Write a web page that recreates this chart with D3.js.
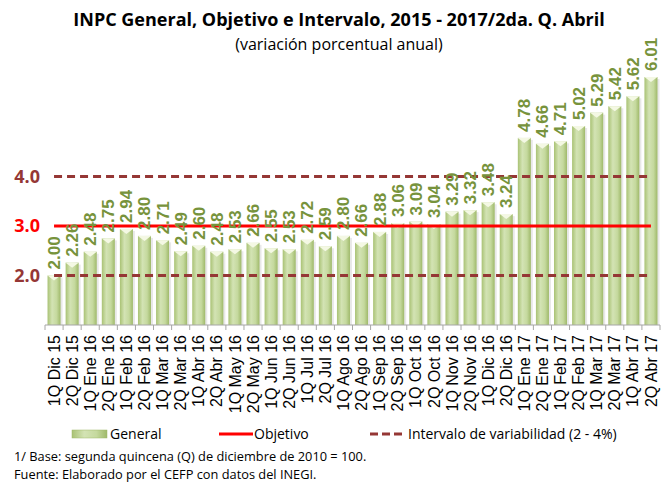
<!DOCTYPE html>
<html lang="es">
<head>
  <meta charset="UTF-8">
  <title>INPC General, Objetivo e Intervalo</title>
  <script src="https://d3js.org/d3.v7.min.js"></script>
  <style>
    body { margin: 0; background: #fff; }
    text { font-family: "Open Sans", sans-serif; }
  </style>
</head>
<body>
  <div id="chart"></div>
  <script>
    const categories = ["1Q Dic 15", "2Q Dic 15", "1Q Ene 16", "2Q Ene 16", "1Q Feb 16", "2Q Feb 16",
      "1Q Mar 16", "2Q Mar 16", "1Q Abr 16", "2Q Abr 16", "1Q May 16", "2Q May 16",
      "1Q Jun 16", "2Q Jun 16", "1Q Jul 16", "2Q Jul 16", "1Q Ago 16", "2Q Ago 16",
      "1Q Sep 16", "2Q Sep 16", "1Q Oct 16", "2Q Oct 16", "1Q Nov 16", "2Q Nov 16",
      "1Q Dic 16", "2Q Dic 16", "1Q Ene 17", "2Q Ene 17", "1Q Feb 17", "2Q Feb 17",
      "1Q Mar 17", "2Q Mar 17", "1Q Abr 17", "2Q Abr 17"];
    const general = [2.00, 2.26, 2.48, 2.75, 2.94, 2.80, 2.71, 2.49, 2.60, 2.48, 2.53, 2.66,
      2.55, 2.53, 2.72, 2.59, 2.80, 2.66, 2.88, 3.06, 3.09, 3.04, 3.29, 3.32,
      3.48, 3.24, 4.78, 4.66, 4.71, 5.02, 5.29, 5.42, 5.62, 6.01];
    const objetivo = 3.0;
    const intervalo = [2.0, 4.0];
    const yTicks = [2.0, 3.0, 4.0];

    const width = 667, height = 485;
    const svg = d3.select("#chart").append("svg")
      .attr("width", width).attr("height", height);

    const x = d3.scaleBand().domain(categories).range([45, 660]).paddingInner(0.28).paddingOuter(0.14);
    const y = d3.scaleLinear().domain([1, 7]).range([325, 28]);
    const cx = d => x(d) + x.bandwidth() / 2;

    // gradiente de barras
    const defs = svg.append("defs");
    const grad = defs.append("linearGradient").attr("id", "barGrad").attr("x1", 0).attr("x2", 1);
    grad.append("stop").attr("offset", "0%").attr("stop-color", "#a9c274");
    grad.append("stop").attr("offset", "35%").attr("stop-color", "#d3e3b4");
    grad.append("stop").attr("offset", "70%").attr("stop-color", "#c5d99e");
    grad.append("stop").attr("offset", "100%").attr("stop-color", "#9fb96a");

    // titulo
    svg.append("text").attr("x", 339).attr("y", 26).attr("text-anchor", "middle")
      .attr("font-size", 18).attr("font-weight", "bold").attr("fill", "#000")
      .text("INPC General, Objetivo e Intervalo,  2015 - 2017/2da. Q. Abril");
    svg.append("text").attr("x", 339).attr("y", 50).attr("text-anchor", "middle")
      .attr("font-size", 16).attr("fill", "#000")
      .text("(variación porcentual anual)");

    // barras
    const bars = svg.append("g");
    bars.selectAll("rect.shadow").data(categories).join("rect")
      .attr("x", d => x(d) + 2).attr("y", (d, i) => y(general[i]) + 2)
      .attr("width", x.bandwidth()).attr("height", (d, i) => y(1) - y(general[i]) - 2)
      .attr("fill", "#d9d9d9").attr("opacity", 0.6);
    bars.selectAll("rect.bar").data(categories).join("rect")
      .attr("x", d => x(d)).attr("y", (d, i) => y(general[i]))
      .attr("width", x.bandwidth()).attr("height", (d, i) => y(1) - y(general[i]))
      .attr("fill", "url(#barGrad)");
    bars.selectAll("path.cap").data(categories).join("path")
      .attr("d", (d, i) => {
        const l = x(d), r = x(d) + x.bandwidth(), t = y(general[i]);
        return `M${l},${t}L${r},${t}L${(l + r) / 2},${t + 5}Z`;
      })
      .attr("fill", "#f4f8e4");

    // eje x
    const axis = svg.append("g").attr("transform", `translate(0,${y(1)})`);
    axis.append("line").attr("x1", 45).attr("x2", 660).attr("stroke", "#a6a6a6");
    axis.selectAll("line.tick").data(d3.range(categories.length + 1)).join("line")
      .attr("x1", i => 45 + i * x.step()).attr("x2", i => 45 + i * x.step())
      .attr("y1", 0).attr("y2", 5).attr("stroke", "#a6a6a6");
    axis.selectAll("text").data(categories).join("text")
      .attr("transform", d => `translate(${cx(d)},10) rotate(-90)`)
      .attr("text-anchor", "end").attr("dy", "0.35em")
      .style("font-family", "'Liberation Sans', Arial, sans-serif")
      .attr("font-size", 16).attr("fill", "#000")
      .text(d => d);

    // lineas de referencia
    const x0 = cx(categories[0]), x1 = cx(categories[categories.length - 1]);
    svg.selectAll("line.int").data(intervalo).join("line")
      .attr("x1", x0).attr("x2", x1).attr("y1", d => y(d)).attr("y2", d => y(d))
      .attr("stroke", "#953735").attr("stroke-width", 3).attr("stroke-dasharray", "8,5");
    svg.append("line").attr("x1", x0).attr("x2", x1)
      .attr("y1", y(objetivo)).attr("y2", y(objetivo))
      .attr("stroke", "#ff0000").attr("stroke-width", 3);

    // etiquetas eje y
    svg.selectAll("text.ytick").data(yTicks).join("text")
      .attr("x", 40).attr("y", d => y(d)).attr("dy", "0.35em").attr("text-anchor", "end")
      .attr("font-size", 18).attr("font-weight", "bold")
      .attr("fill", d => d === objetivo ? "#ff0000" : "#953735")
      .text(d => d.toFixed(1));

    // etiquetas de datos
    svg.selectAll("text.val").data(categories).join("text")
      .attr("transform", (d, i) => `translate(${cx(d)},${y(general[i]) - 6}) rotate(-90)`)
      .attr("dy", "0.35em")
      .style("font-family", "'Liberation Sans', Arial, sans-serif")
      .attr("font-size", 17).attr("font-weight", "bold").attr("fill", "#77933c")
      .text((d, i) => general[i].toFixed(2));

    // leyenda
    const leg = svg.append("g");
    leg.append("rect").attr("x", 72).attr("y", 430).attr("width", 35).attr("height", 8)
      .attr("fill", "url(#barGrad)").attr("stroke", "#9fb96a").attr("stroke-width", 0.5);
    leg.append("text").attr("x", 110).attr("y", 434).attr("dy", "0.35em").attr("font-size", 14).text("General");
    leg.append("line").attr("x1", 219).attr("x2", 253).attr("y1", 434).attr("y2", 434)
      .attr("stroke", "#ff0000").attr("stroke-width", 3);
    leg.append("text").attr("x", 254).attr("y", 434).attr("dy", "0.35em").attr("font-size", 14).text("Objetivo");
    leg.append("line").attr("x1", 370).attr("x2", 402).attr("y1", 434).attr("y2", 434)
      .attr("stroke", "#953735").attr("stroke-width", 3).attr("stroke-dasharray", "8,4");
    leg.append("text").attr("x", 408).attr("y", 434).attr("dy", "0.35em").attr("font-size", 14)
      .text("Intervalo de variabilidad (2 - 4%)");

    // notas
    svg.append("text").attr("x", 14).attr("y", 461).attr("font-size", 12.8)
      .text("1/ Base: segunda quincena (Q) de diciembre de 2010 = 100.");
    svg.append("text").attr("x", 14).attr("y", 479).attr("font-size", 12.8)
      .text("Fuente: Elaborado por el CEFP con  datos del INEGI.");
  </script>
</body>
</html>
